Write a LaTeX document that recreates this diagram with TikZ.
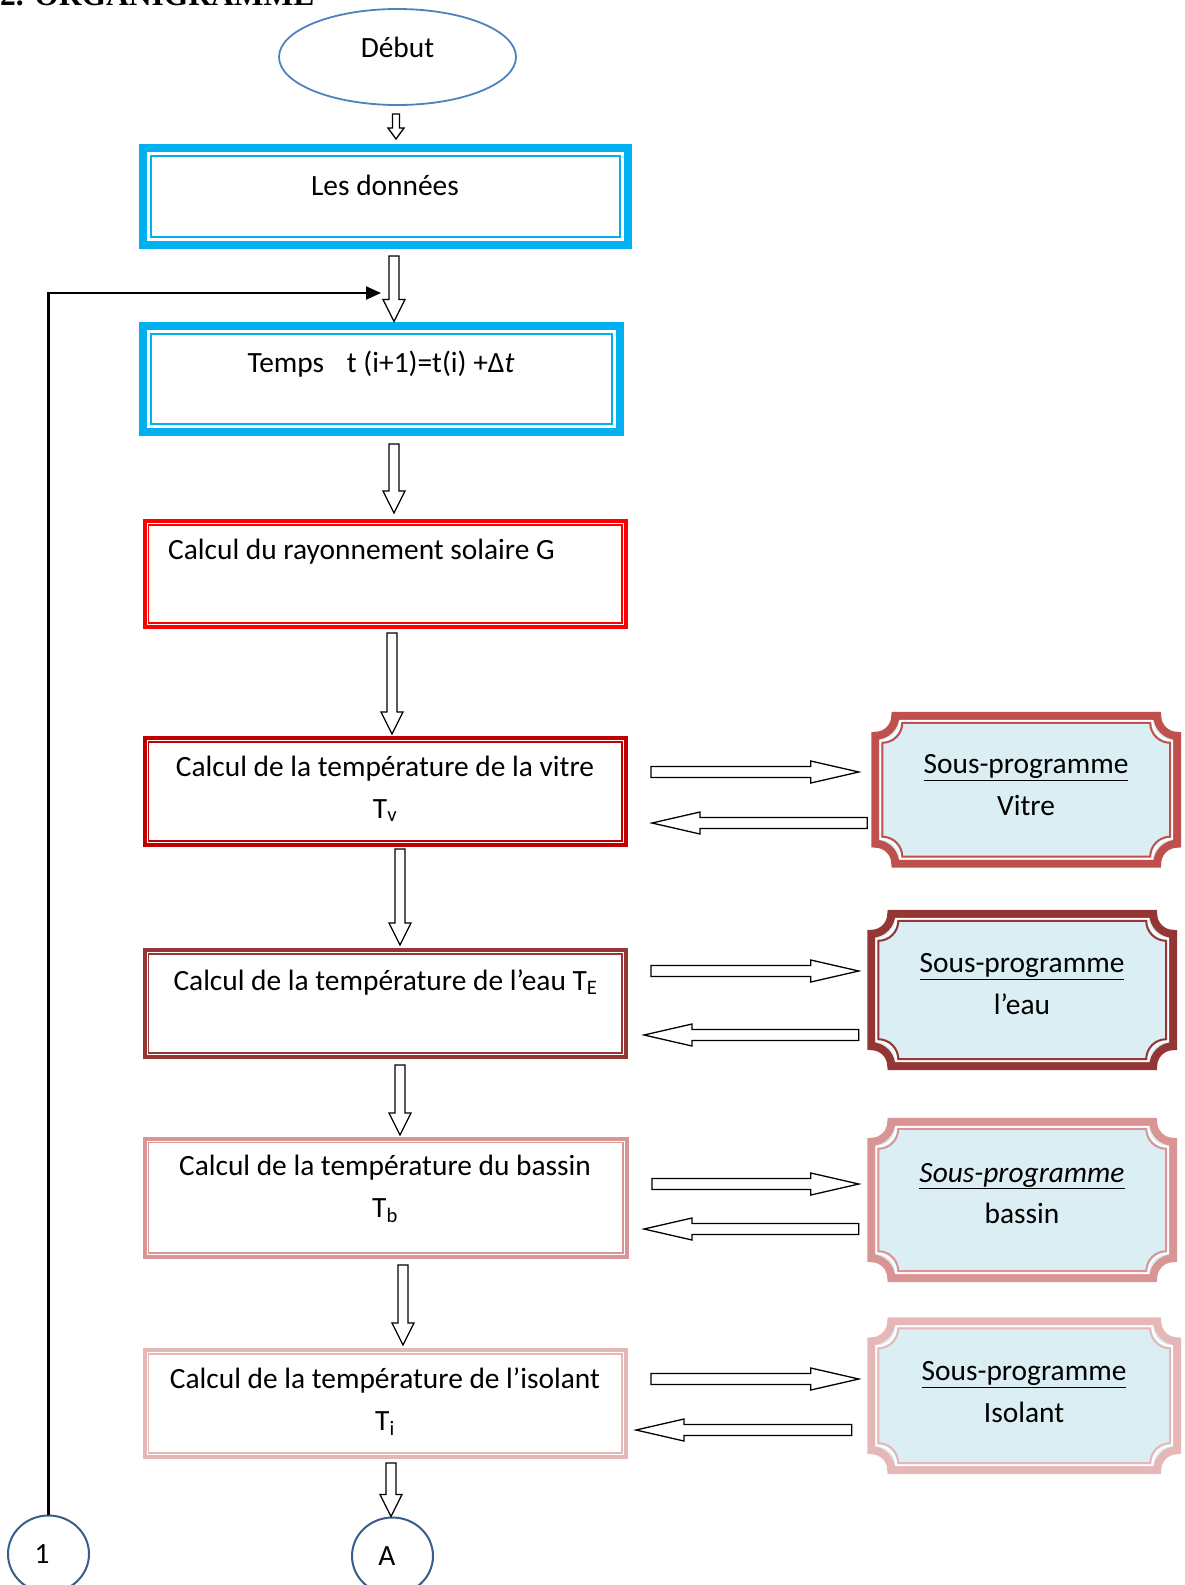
\documentclass[tikz,border=0pt]{standalone}
\usepackage{fontspec}
\setmainfont{Carlito}
\newfontfamily\titrefont{Liberation Serif}
\usetikzlibrary{calc, arrows.meta, shapes.geometric}

\definecolor{bleuciel}{HTML}{00B0F0}
\definecolor{bleuellipse}{HTML}{4F81BD}
\definecolor{bleucercle}{HTML}{385D8A}
\definecolor{rougevif}{HTML}{FF0000}
\definecolor{rougefonce}{HTML}{C00000}
\definecolor{brique}{HTML}{943634}
\definecolor{rosebassin}{HTML}{D99594}
\definecolor{roseisolant}{HTML}{E5B8B7}
\definecolor{rougesp}{HTML}{C0504D}
\definecolor{fondsp}{HTML}{DAEEF3}

\newcommand{\corps}{\fontsize{29.4}{41.5}\selectfont}

% contour d'une plaque (coins rentrants) autour d'un noeud
\newcommand{\contour}[4]{%
  \path[#4] let \p1=(#1.south west), \p2=(#1.north east) in
    (\x1+#2+#3,\y2-#2) -- (\x2-#2-#3,\y2-#2)
    arc[start angle=180, end angle=270, radius=#3]
    -- (\x2-#2,\y1+#2+#3)
    arc[start angle=90, end angle=180, radius=#3]
    -- (\x1+#2+#3,\y1+#2)
    arc[start angle=0, end angle=90, radius=#3]
    -- (\x1+#2,\y2-#2-#3)
    arc[start angle=270, end angle=360, radius=#3]
    -- cycle;}

\newcommand{\plaque}[2]{%
  \contour{#1}{4pt}{20pt}{fill=fondsp}
  \contour{#1}{4pt}{20pt}{draw=#2, line width=8pt}
  \contour{#1}{9pt}{20pt}{draw=white, line width=2pt}
  \contour{#1}{11pt}{20pt}{draw=#2, line width=2pt}}

\tikzset{
  tige/.store in=\tige, pointe/.store in=\pointe, tete/.store in=\tete,
  tige=5pt, pointe=11pt, tete=22pt,
  % fleche creuse (contour noir, interieur blanc)
  creuse/.style={draw=black, fill=white, line width=1.3pt, line join=miter,
    to path={($(\tikztostart)!\tige!90:(\tikztotarget)$)
      -- ($(\tikztotarget)!\tete!(\tikztostart)!\tige!-90:(\tikztostart)$)
      -- ($(\tikztotarget)!\tete!(\tikztostart)!\pointe!-90:(\tikztostart)$)
      -- (\tikztotarget)
      -- ($(\tikztotarget)!\tete!(\tikztostart)!\pointe!90:(\tikztostart)$)
      -- ($(\tikztotarget)!\tete!(\tikztostart)!\tige!90:(\tikztostart)$)
      -- ($(\tikztostart)!\tige!-90:(\tikztotarget)$)
      -- cycle}},
  horiz/.style={creuse, tige=5.5pt, pointe=11pt, tete=48pt},
  cadreepais/.style={draw=#1, line width=8pt, inner sep=0pt,
    path picture={\draw[#1, line width=2.5pt]
      ([shift={(8.25pt,-8.25pt)}]path picture bounding box.north west) rectangle
      ([shift={(-8.25pt,8.25pt)}]path picture bounding box.south east);}},
  cadrefin/.style={draw=#1, line width=4pt, inner sep=0pt,
    path picture={\draw[#1, line width=1.2pt]
      ([shift={(4pt,-4pt)}]path picture bounding box.north west) rectangle
      ([shift={(-4pt,4pt)}]path picture bounding box.south east);}},
  txt/.style={inner sep=0pt, font=\corps, align=center},
  debut/.style={ellipse, draw=bleuellipse, line width=1.8pt, inner sep=0pt,
    minimum width=237pt, minimum height=96pt, font=\corps,
    text height=12pt, text depth=12pt},
  renvoi/.style={ellipse, draw=bleucercle, line width=2pt, inner sep=0pt,
    minimum width=81pt, minimum height=77pt, font=\corps},
  sp/.style={inner sep=0pt, minimum width=309.5pt},
  boucle/.style={line width=2.2pt, -{Triangle[length=15pt, width=13pt]}}
}

\begin{document}
\begin{tikzpicture}[x=1pt, y=-1pt]
  \useasboundingbox (0,0) rectangle (1184,1585);

  \node[anchor=base west, inner sep=0pt,
        font=\titrefont\fontsize{31.5}{36}\selectfont\bfseries] (titre) at (0,5) {2. ORGANIGRAMME};

  % Debut et donnees
  \node[debut] (start) at (397.5,57) {Début};
  \node[cadreepais=bleuciel, minimum width=485.5pt, minimum height=97.5pt] (data) at (385.25,196.25) {};
  \node[txt] (data-txt) at (385,185) {Les données};

  \node[cadreepais=bleuciel, minimum width=477.5pt, minimum height=106.5pt] (time) at (381.25,378.75) {};
  \node[txt] (time-txt) at (381,364) {Temps\hspace{0.55em} t (i+1)=t(i) +Δ\textit{t}};

  % blocs de calcul
  \node[cadrefin=rougevif, minimum width=481.5pt, minimum height=106pt] (solar) at (385.25,574) {};
  \node[txt, anchor=west] (solar-txt) at (168,552) {Calcul du rayonnement solaire G};

  \node[cadrefin=rougefonce, minimum width=481.5pt, minimum height=107pt] (glass) at (385.25,791.5) {};
  \node[txt] (glass-txt) at (385,789) {Calcul de la température de la vitre\\T\textsubscript{v}};

  \node[cadrefin=brique, minimum width=481.5pt, minimum height=107pt] (water) at (385.25,1003.5) {};
  \node[txt] (water-txt) at (385.5,982) {Calcul de la température de l’eau T\textsubscript{E}};

  \node[cadrefin=rosebassin, minimum width=482.5pt, minimum height=118.5pt] (basin) at (385.75,1197.75) {};
  \node[txt] (basin-txt) at (385,1189) {Calcul de la température du bassin\\T\textsubscript{b}};

  \node[cadrefin=roseisolant, minimum width=481.5pt, minimum height=107pt] (insul) at (385.25,1403.5) {};
  \node[txt] (insul-txt) at (385,1402) {Calcul de la température de l’isolant\\T\textsubscript{i}};

  % sous-programmes
  \node[sp, minimum height=155.5pt] (glass-sp) at (1026.25,789.75) {};
  \plaque{glass-sp}{rougesp}
  \node[txt] (glass-sp-txt) at (1026,785) {\underline{Sous-programme}\\Vitre};

  \node[sp, minimum height=160pt] (water-sp) at (1022.25,990) {};
  \plaque{water-sp}{brique}
  \node[txt] (water-sp-txt) at (1022,984) {\underline{Sous-programme}\\l’eau};

  \node[sp, minimum height=164pt] (basin-sp) at (1022.25,1200) {};
  \plaque{basin-sp}{rosebassin}
  \node[txt] (basin-sp-txt) at (1022,1193.5) {\underline{\textit{Sous-programme}}\\bassin};

  \node[sp, minimum width=313.5pt, minimum height=156.5pt] (insul-sp) at (1024.25,1395.75) {};
  \plaque{insul-sp}{roseisolant}
  \node[txt] (insul-sp-txt) at (1024,1392) {\underline{Sous-programme}\\Isolant};

  % connecteurs de renvoi
  \node[renvoi] (one) at (48.5,1554) {1\hspace*{13pt}};
  \node[renvoi] (A) at (392.5,1556) {A\hspace*{11pt}};

  % enchainement vertical
  \draw[creuse, tige=3.5pt, pointe=8pt, tete=11pt] ([xshift=-1.5pt,yshift=-8pt]start.south) to ([xshift=10.75pt,yshift=4.5pt]data.north);
  \draw[creuse] ([xshift=8.75pt,yshift=-7pt]data.south) to ([xshift=12.75pt]time.north);
  \draw[creuse] ([xshift=12.75pt,yshift=-8pt]time.south) to ([xshift=8.75pt,yshift=6pt]solar.north);
  \draw[creuse] ([xshift=6.75pt,yshift=-4pt]solar.south) to ([xshift=6.75pt,yshift=2pt]glass.north);
  \draw[creuse] ([xshift=14.75pt,yshift=-2pt]glass.south) to ([xshift=14.75pt,yshift=3pt]water.north);
  \draw[creuse] ([xshift=14.75pt,yshift=-6pt]water.south) to ([xshift=14.25pt,yshift=1.5pt]basin.north);
  \draw[creuse] ([xshift=17.25pt,yshift=-6pt]basin.south) to ([xshift=17.75pt,yshift=3pt]insul.north);
  \draw[creuse] ([xshift=5.75pt,yshift=-4pt]insul.south) to ([xshift=-1.5pt]A.north);

  % appels et retours des sous-programmes
  \draw[horiz] ([xshift=23pt,yshift=19.5pt]glass.east) to ([xshift=-12.5pt,yshift=17.75pt]glass-sp.west);
  \draw[horiz] ([xshift=-4pt,yshift=-33.25pt]glass-sp.west) to ([xshift=24pt,yshift=-31.5pt]glass.east);
  \draw[horiz] ([xshift=23pt,yshift=32.5pt]water.east) to ([xshift=-8.5pt,yshift=19pt]water-sp.west);
  \draw[horiz] ([xshift=-8.5pt,yshift=-45pt]water-sp.west) to ([xshift=16pt,yshift=-31.5pt]water.east);
  \draw[horiz] ([xshift=23pt,yshift=13.75pt]basin.east) to ([xshift=-8.5pt,yshift=16pt]basin-sp.west);
  \draw[horiz] ([xshift=-8.5pt,yshift=-29pt]basin-sp.west) to ([xshift=15pt,yshift=-31.25pt]basin.east);
  \draw[horiz] ([xshift=23pt,yshift=24.5pt]insul.east) to ([xshift=-8.5pt,yshift=16.75pt]insul-sp.west);
  \draw[horiz] ([xshift=-15.5pt,yshift=-34.25pt]insul-sp.west) to ([xshift=8pt,yshift=-26.5pt]insul.east);

  % retour au pas de temps suivant
  \coordinate (loop-end) at (381,293);
  \draw[boucle] (one.north) |- (loop-end);
\end{tikzpicture}
\end{document}
